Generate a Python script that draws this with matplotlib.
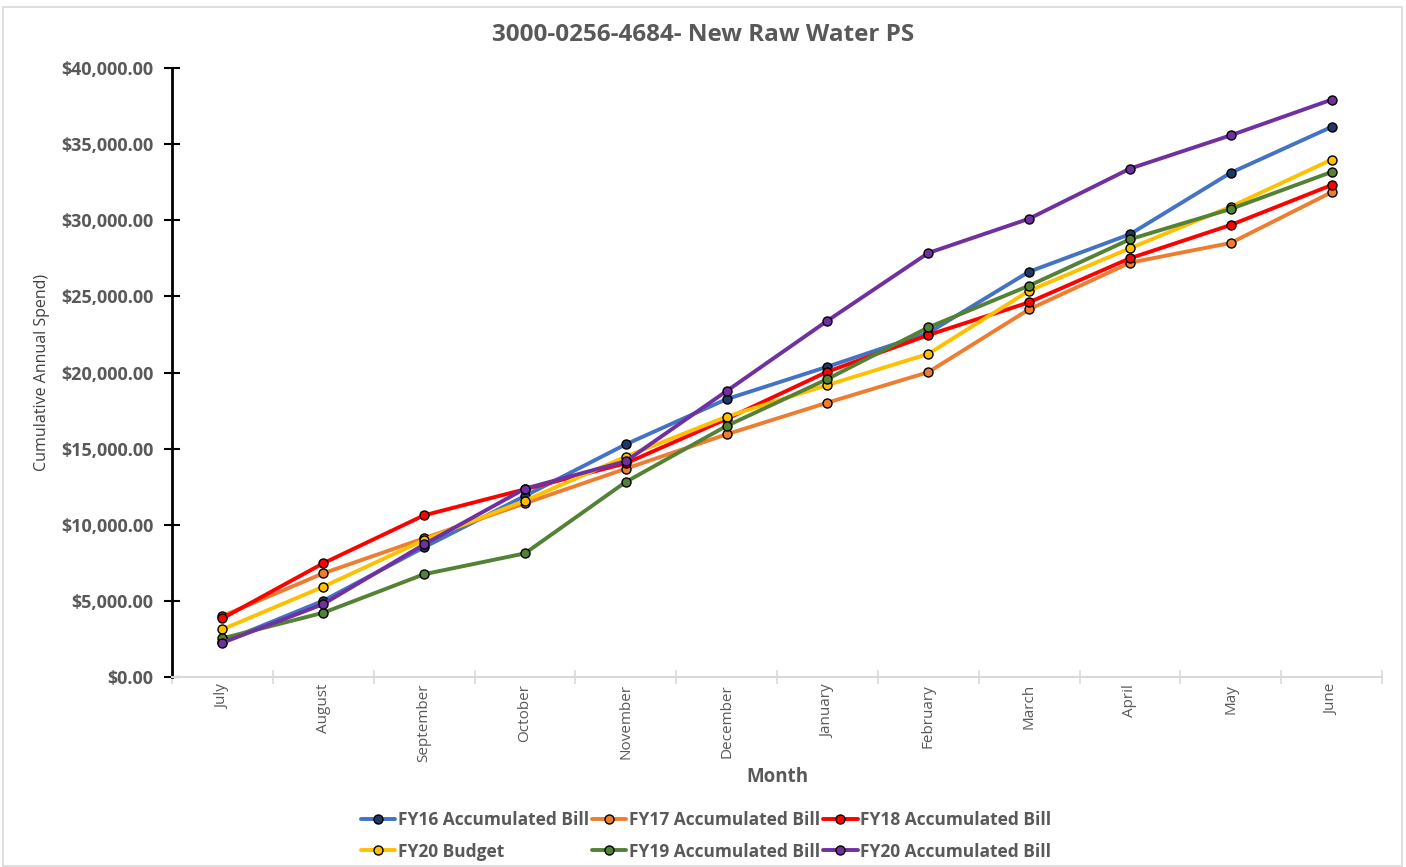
import matplotlib
matplotlib.use("Agg")
import matplotlib.pyplot as plt
from matplotlib.patches import Rectangle
from matplotlib.ticker import FuncFormatter, FixedLocator

months = ["July", "August", "September", "October", "November", "December",
          "January", "February", "March", "April", "May", "June"]

fy16 = [2300, 5010, 8520, 11890, 15280, 18250, 20380, 22600, 26620, 29080, 33120, 36130]
fy17 = [4000, 6810, 9110, 11410, 13680, 15940, 18020, 20020, 24150, 27210, 28510, 31840]
fy18 = [3850, 7470, 10620, 12330, 14030, 16950, 20050, 22460, 24610, 27500, 29690, 32310]
fy20_budget = [3130, 5930, 9000, 11580, 14470, 17100, 19180, 21220, 25370, 28160, 30890, 33980]
fy19 = [2540, 4220, 6750, 8120, 12810, 16490, 19570, 22960, 25700, 28750, 30740, 33170]
fy20_acc = [2250, 4790, 8710, 12370, 14170, 18780, 23400, 27850, 30100, 33390, 35580, 37920]

series_names = ["FY16 Accumulated Bill", "FY17 Accumulated Bill", "FY18 Accumulated Bill",
                "FY20 Budget", "FY19 Accumulated Bill", "FY20 Accumulated Bill"]
series_values = [fy16, fy17, fy18, fy20_budget, fy19, fy20_acc]
line_colors = ["#4472C4", "#ED7D31", "#FF0000", "#FFC000", "#548235", "#7030A0"]
marker_colors = ["#1F3864", "#ED7D31", "#FF0000", "#FFC000", "#548235", "#7030A0"]

plt.rcParams['font.family'] = ['Open Sans', 'DejaVu Sans']

fig = plt.figure(figsize=(14.06, 8.67), dpi=100)
fig.patches.append(Rectangle((3/1406, 1-866/867), 1399/1406, 859/867, transform=fig.transFigure,
                             fill=False, edgecolor="#d9d9d9", linewidth=1.2))
ax = fig.add_axes([172/1406, 1-677/867, 1210/1406, 609/867])

x = list(range(len(months)))
handles = []
for name, vals, lc, mc in zip(series_names, series_values, line_colors, marker_colors):
    h, = ax.plot(x, vals, color=lc, linewidth=2.8, marker='o', markersize=6.5,
                 markerfacecolor=mc, markeredgecolor='black', markeredgewidth=1.0,
                 label=name, solid_capstyle='round')
    handles.append(h)

ax.set_xlim(-0.5, len(months) - 0.5)
ax.set_ylim(0, 40000)

for s in ['top', 'right']:
    ax.spines[s].set_visible(False)
ax.spines['left'].set_color('black')
ax.spines['left'].set_linewidth(2.0)
ax.spines['bottom'].set_color('#d9d9d9')
ax.spines['bottom'].set_linewidth(1.5)

ax.set_yticks(range(0, 40001, 5000))
ax.yaxis.set_major_formatter(FuncFormatter(lambda v, p: "${:,.2f}".format(v)))
ax.tick_params(axis='y', direction='inout', length=11, width=1.5, color='black',
               labelsize=13, labelcolor='#595959', pad=8)
for lab in ax.get_yticklabels():
    lab.set_fontweight('bold')

ax.set_xticks(x)
ax.set_xticklabels(months, rotation=90, fontsize=11, color='#595959')
ax.tick_params(axis='x', which='major', length=0, pad=5)
ax.xaxis.set_minor_locator(FixedLocator([i - 0.5 for i in range(len(months) + 1)]))
ax.tick_params(axis='x', which='minor', direction='inout', length=10, width=1.2, color='#d9d9d9')

ax.set_xlabel("Month", fontsize=13.5, fontweight='bold', color='#595959', labelpad=3)
ax.set_ylabel("Cumulative Annual Spend)", fontsize=11.5, color='#404040', labelpad=8)

fig.text(703/1406, 1-35/867, "3000-0256-4684- New Raw Water PS", ha='center', va='center',
         fontsize=17.5, fontweight='bold', color='#595959')

order = [0, 3, 1, 4, 2, 5]
leg = fig.legend([handles[i] for i in order], [series_names[i] for i in order],
                 loc='center', bbox_to_anchor=(706/1406, 1-836/867), ncol=3, frameon=False,
                 handlelength=2.0, handletextpad=0.15, columnspacing=0.15, labelspacing=0.75,
                 prop={'size': 12.5, 'weight': 'bold'})
for t in leg.get_texts():
    t.set_color('#595959')

fig.savefig("out.png", dpi=100)
